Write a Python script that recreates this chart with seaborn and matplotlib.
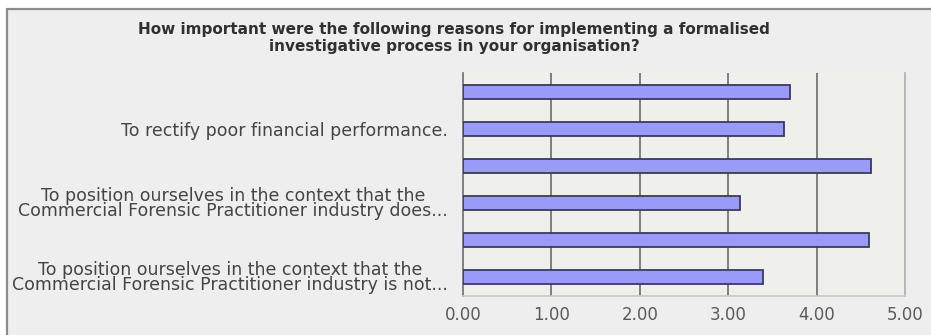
import matplotlib
matplotlib.use("Agg")
import matplotlib.pyplot as plt
from matplotlib.patches import Rectangle
from matplotlib.lines import Line2D
import seaborn as sns
import pandas as pd

# Mean importance rating per reason (top to bottom)
reasons = ["R1", "R2", "R3", "R4", "R5", "R6"]
mean_scores = [3.70, 3.63, 4.62, 3.13, 4.59, 3.39]
reason_labels = [
    "",
    "To rectify poor financial performance.",
    "",
    "To position ourselves in the context that the\nCommercial Forensic Practitioner industry does...",
    "",
    "To position ourselves in the context that the\nCommercial Forensic Practitioner industry is not...",
]
x_ticks = [0, 1, 2, 3, 4, 5]
x_tick_labels = ["0.00", "1.00", "2.00", "3.00", "4.00", "5.00"]
title = ("How important were the following reasons for implementing a formalised\n"
         "investigative process in your organisation?")

df = pd.DataFrame({"reason": reasons, "score": mean_scores})

sns.set_theme(style="white")
plt.rcParams["font.family"] = ["DejaVu Sans"]

W, H = 931, 335
fig = plt.figure(figsize=(W / 100, H / 100), dpi=100)
fig.patch.set_facecolor("white")

# chart panel: grey fill with a border along its top and left edges
top = 1 - 8.5 / H
left = 6.5 / W
fig.patches.append(Rectangle((left, 0), 1 - left, top, transform=fig.transFigure,
                             facecolor="#eeeeee", edgecolor="none", zorder=-5))
fig.lines.append(Line2D([left, 1], [top, top], transform=fig.transFigure,
                        color="#8c8c8c", linewidth=1.6, zorder=-4))
fig.lines.append(Line2D([left, left], [0, top], transform=fig.transFigure,
                        color="#8c8c8c", linewidth=1.6, zorder=-4))

ax = fig.add_axes([463 / W, 1 - 296 / H, (905 - 463) / W, (296 - 73) / H])
ax.set_zorder(2)
ax.set_facecolor("#efefec")

sns.barplot(data=df, x="score", y="reason", orient="h", ax=ax, width=0.38,
            color="#9a9af8", saturation=1, edgecolor="#3a3a5e", linewidth=1.3,
            zorder=3)

ax.set_xlim(0, 5)
ax.set_ylim(5.5, -0.5)
ax.set_xlabel("")
ax.set_ylabel("")

ax.set_xticks(x_ticks)
ax.set_xticklabels(x_tick_labels, fontsize=12, color="#5a5a5a")
ax.set_yticks(range(len(reasons)))
ax.set_yticklabels(reason_labels, fontsize=12.5, color="#444444",
                   multialignment="center", linespacing=0.78)
ax.tick_params(axis="y", length=0, pad=11)
ax.tick_params(axis="x", length=0, pad=7)
ax.set_yticks([i + 0.5 for i in range(-1, len(reasons))], minor=True)
ax.tick_params(axis="y", which="minor", length=3, color="#999999", width=0.8)

ax.grid(axis="x", color="#5f5f5f", linewidth=1.1, zorder=1)
gl = ax.xaxis.get_gridlines()
gl[0].set_visible(False)
gl[-1].set_color("#b5b5b5")

ax.spines["top"].set_visible(False)
ax.spines["left"].set_color("#6e6e6e")
ax.spines["left"].set_linewidth(1.2)
ax.spines["right"].set_color("#b5b5b5")
ax.spines["bottom"].set_color("#c8c8c8")

fig.text(454 / W, 1 - 38 / H, title, ha="center", va="center", fontsize=11,
         fontweight="bold", color="#303030", linespacing=1.15)

fig.savefig("out.png", dpi=100)
